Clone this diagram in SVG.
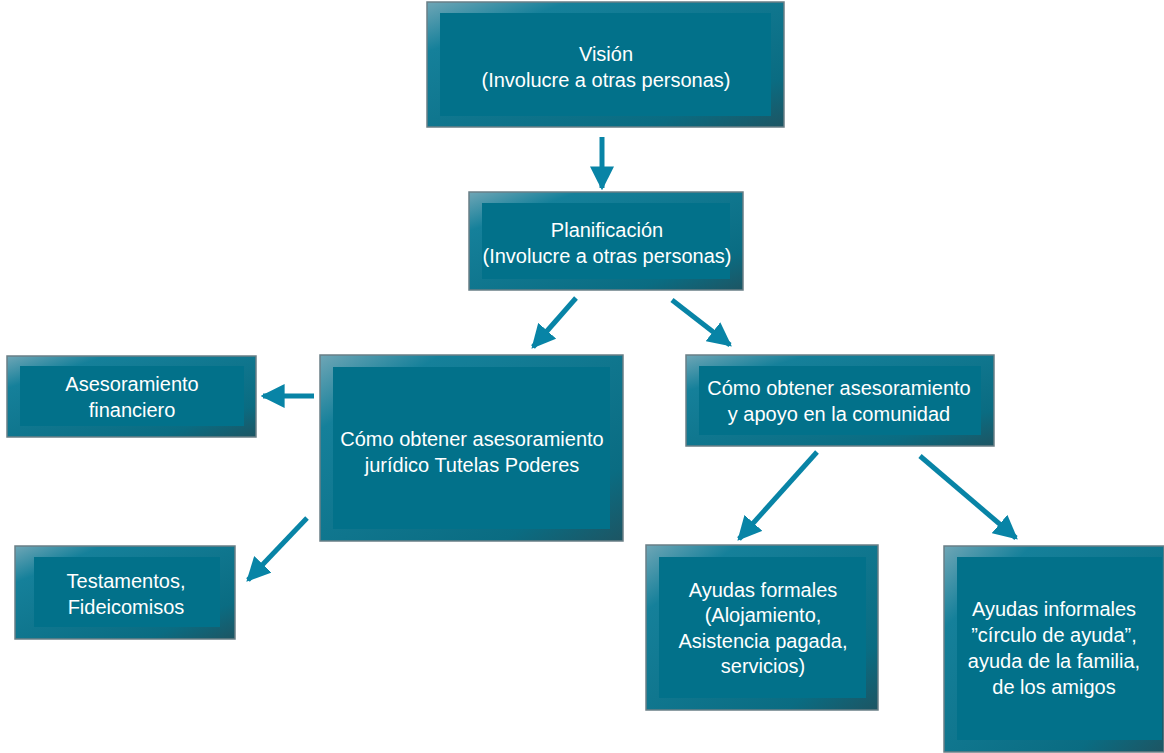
<svg xmlns="http://www.w3.org/2000/svg" width="1164" height="753" viewBox="0 0 1164 753">
<defs>
<linearGradient id="bevel" x1="0" y1="0" x2="1" y2="1">
<stop offset="0" stop-color="#6fa6b6"/>
<stop offset="0.2" stop-color="#15809a"/>
<stop offset="0.8" stop-color="#0a6c82"/>
<stop offset="1" stop-color="#1d5563"/>
</linearGradient>
<marker id="ah" viewBox="0 0 10 10" refX="9" refY="5" markerWidth="24" markerHeight="24" markerUnits="userSpaceOnUse" orient="auto">
<path d="M0,0 L10,5 L0,10 Z" fill="#0884a6"/>
</marker>
</defs>
<style>
.outer{fill:url(#bevel);stroke:#6a7f86;stroke-width:1.5}
.inner{fill:#02718a}
.t{font-family:"Liberation Sans",Arial,sans-serif;font-size:20px;fill:#ffffff;text-anchor:middle}
.c{stroke:#0884a6;stroke-width:5;fill:none;marker-end:url(#ah)}
</style>
<rect width="1164" height="753" fill="#ffffff"/>
<g id="vision">
<rect class="outer" x="427" y="2" width="357" height="125"/>
<rect class="inner" x="440" y="13" width="331" height="103"/>
<text class="t" x="606" y="61">Visión</text>
<text class="t" x="606" y="87">(Involucre a otras personas)</text>
</g>
<g id="planificacion">
<rect class="outer" x="469" y="192" width="274" height="98"/>
<rect class="inner" x="482" y="203" width="248" height="76"/>
<text class="t" x="607" y="237">Planificación</text>
<text class="t" x="607" y="263">(Involucre a otras personas)</text>
</g>
<g id="financiero">
<rect class="outer" x="7" y="356" width="249" height="81"/>
<rect class="inner" x="20" y="366" width="224" height="60"/>
<text class="t" x="132" y="391">Asesoramiento</text>
<text class="t" x="132" y="417">financiero</text>
</g>
<g id="juridico">
<rect class="outer" x="320" y="355" width="303" height="186"/>
<rect class="inner" x="333" y="367" width="277" height="162"/>
<text class="t" x="472" y="446">Cómo obtener asesoramiento</text>
<text class="t" x="472" y="472">jurídico Tutelas Poderes</text>
</g>
<g id="comunidad">
<rect class="outer" x="686" y="355" width="308" height="91"/>
<rect class="inner" x="699" y="366" width="282" height="69"/>
<text class="t" x="839" y="395">Cómo obtener asesoramiento</text>
<text class="t" x="839" y="421">y apoyo en la comunidad</text>
</g>
<g id="testamentos">
<rect class="outer" x="15" y="546" width="220" height="93"/>
<rect class="inner" x="34" y="557" width="186" height="70"/>
<text class="t" x="126" y="588">Testamentos,</text>
<text class="t" x="126" y="614">Fideicomisos</text>
</g>
<g id="formales">
<rect class="outer" x="646" y="545" width="232" height="165"/>
<rect class="inner" x="659" y="557" width="207" height="141"/>
<text class="t" x="763" y="597">Ayudas formales</text>
<text class="t" x="763" y="622">(Alojamiento,</text>
<text class="t" x="763" y="648">Asistencia pagada,</text>
<text class="t" x="763" y="673">servicios)</text>
</g>
<g id="informales">
<rect class="outer" x="944" y="546" width="220" height="206"/>
<rect class="inner" x="957" y="557" width="205" height="183"/>
<text class="t" x="1054" y="616">Ayudas informales</text>
<text class="t" x="1054" y="642">”círculo de ayuda”,</text>
<text class="t" x="1054" y="668">ayuda de la familia,</text>
<text class="t" x="1054" y="694">de los amigos</text>
</g>
<g id="connectors">
<line class="c" x1="602" y1="137" x2="602" y2="188"/>
<line class="c" x1="576" y1="298" x2="533" y2="347"/>
<line class="c" x1="672" y1="300" x2="730" y2="345"/>
<line class="c" x1="314" y1="396" x2="263" y2="396"/>
<line class="c" x1="307" y1="518" x2="248" y2="580"/>
<line class="c" x1="817" y1="452" x2="739" y2="539"/>
<line class="c" x1="920" y1="456" x2="1016" y2="538"/>
</g>
</svg>
